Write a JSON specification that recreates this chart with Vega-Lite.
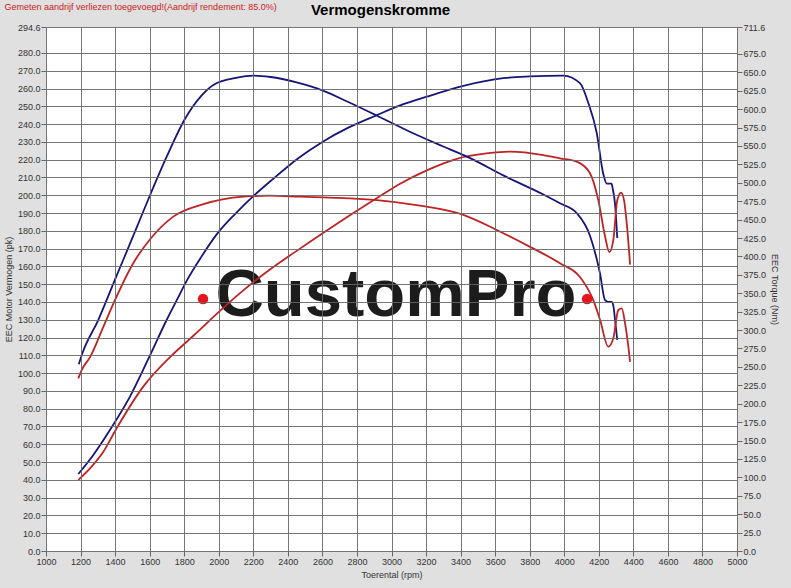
{
  "$schema": "https://vega.github.io/schema/vega-lite/v6.json",
  "autosize": {"type": "none"},
  "width": 691,
  "height": 524,
  "padding": {"left": 46, "top": 27, "right": 54, "bottom": 37},
  "background": "#e0e0e0",
  "config": {
    "view": {"fill": "#ffffff", "stroke": null},
    "font": "Liberation Sans",
    "axis": {
      "labelFont": "Liberation Sans",
      "labelFontSize": 9,
      "labelColor": "#333333",
      "labelOverlap": false,
      "labelFlush": false,
      "titleFont": "Liberation Sans",
      "titleFontSize": 9,
      "titleFontWeight": "normal",
      "titleColor": "#333333",
      "tickColor": "#666666",
      "tickSize": 5,
      "gridColor": "#666666",
      "gridWidth": 0.9,
      "gridOpacity": 1,
      "domain": false
    }
  },
  "datasets": {
    "power": [
      {"rpm": 1187, "pk": 43.3, "run": "blauw"},
      {"rpm": 1274, "pk": 54, "run": "blauw"},
      {"rpm": 1370, "pk": 68, "run": "blauw"},
      {"rpm": 1486, "pk": 86.8, "run": "blauw"},
      {"rpm": 1602, "pk": 110, "run": "blauw"},
      {"rpm": 1699, "pk": 130, "run": "blauw"},
      {"rpm": 1757, "pk": 141, "run": "blauw"},
      {"rpm": 1815, "pk": 152, "run": "blauw"},
      {"rpm": 1900, "pk": 165.5, "run": "blauw"},
      {"rpm": 1988, "pk": 178, "run": "blauw"},
      {"rpm": 2100, "pk": 190, "run": "blauw"},
      {"rpm": 2200, "pk": 199.5, "run": "blauw"},
      {"rpm": 2300, "pk": 208, "run": "blauw"},
      {"rpm": 2470, "pk": 221.5, "run": "blauw"},
      {"rpm": 2600, "pk": 230, "run": "blauw"},
      {"rpm": 2750, "pk": 238, "run": "blauw"},
      {"rpm": 2914, "pk": 245, "run": "blauw"},
      {"rpm": 3050, "pk": 250.5, "run": "blauw"},
      {"rpm": 3204, "pk": 255.4, "run": "blauw"},
      {"rpm": 3416, "pk": 261.5, "run": "blauw"},
      {"rpm": 3647, "pk": 265.8, "run": "blauw"},
      {"rpm": 3800, "pk": 266.8, "run": "blauw"},
      {"rpm": 3995, "pk": 267.3, "run": "blauw"},
      {"rpm": 4091, "pk": 263, "run": "blauw"},
      {"rpm": 4139, "pk": 252, "run": "blauw"},
      {"rpm": 4188, "pk": 235, "run": "blauw"},
      {"rpm": 4226, "pk": 212, "run": "blauw"},
      {"rpm": 4246, "pk": 206.5, "run": "blauw"},
      {"rpm": 4274, "pk": 206.5, "run": "blauw"},
      {"rpm": 4280, "pk": 204, "run": "blauw"},
      {"rpm": 4294, "pk": 195, "run": "blauw"},
      {"rpm": 4307, "pk": 176, "run": "blauw"},
      {"rpm": 1187, "pk": 40, "run": "rood"},
      {"rpm": 1255, "pk": 46.5, "run": "rood"},
      {"rpm": 1332, "pk": 55.8, "run": "rood"},
      {"rpm": 1409, "pk": 69, "run": "rood"},
      {"rpm": 1563, "pk": 92.4, "run": "rood"},
      {"rpm": 1718, "pk": 109, "run": "rood"},
      {"rpm": 1853, "pk": 121, "run": "rood"},
      {"rpm": 2007, "pk": 135, "run": "rood"},
      {"rpm": 2123, "pk": 145, "run": "rood"},
      {"rpm": 2300, "pk": 158.5, "run": "rood"},
      {"rpm": 2470, "pk": 170, "run": "rood"},
      {"rpm": 2700, "pk": 185, "run": "rood"},
      {"rpm": 2914, "pk": 198.3, "run": "rood"},
      {"rpm": 3050, "pk": 206.5, "run": "rood"},
      {"rpm": 3204, "pk": 214, "run": "rood"},
      {"rpm": 3378, "pk": 220.5, "run": "rood"},
      {"rpm": 3550, "pk": 223.5, "run": "rood"},
      {"rpm": 3686, "pk": 224.5, "run": "rood"},
      {"rpm": 3879, "pk": 222.6, "run": "rood"},
      {"rpm": 3975, "pk": 220.8, "run": "rood"},
      {"rpm": 4072, "pk": 218.9, "run": "rood"},
      {"rpm": 4149, "pk": 212.4, "run": "rood"},
      {"rpm": 4197, "pk": 197.3, "run": "rood"},
      {"rpm": 4236, "pk": 177, "run": "rood"},
      {"rpm": 4261, "pk": 168, "run": "rood"},
      {"rpm": 4284, "pk": 174.8, "run": "rood"},
      {"rpm": 4307, "pk": 197.3, "run": "rood"},
      {"rpm": 4329, "pk": 201.5, "run": "rood"},
      {"rpm": 4346, "pk": 197.3, "run": "rood"},
      {"rpm": 4362, "pk": 184, "run": "rood"},
      {"rpm": 4381, "pk": 161, "run": "rood"}
    ],
    "torque": [
      {"rpm": 1190, "nm": 253.6, "run": "blauw"},
      {"rpm": 1210, "nm": 268.1, "run": "blauw"},
      {"rpm": 1303, "nm": 314.0, "run": "blauw"},
      {"rpm": 1400, "nm": 368.8, "run": "blauw"},
      {"rpm": 1500, "nm": 425.1, "run": "blauw"},
      {"rpm": 1602, "nm": 483.1, "run": "blauw"},
      {"rpm": 1700, "nm": 536.2, "run": "blauw"},
      {"rpm": 1805, "nm": 587.0, "run": "blauw"},
      {"rpm": 1900, "nm": 618.4, "run": "blauw"},
      {"rpm": 1969, "nm": 632.9, "run": "blauw"},
      {"rpm": 2100, "nm": 642.5, "run": "blauw"},
      {"rpm": 2200, "nm": 645.7, "run": "blauw"},
      {"rpm": 2300, "nm": 643.7, "run": "blauw"},
      {"rpm": 2451, "nm": 636.3, "run": "blauw"},
      {"rpm": 2600, "nm": 625.6, "run": "blauw"},
      {"rpm": 2750, "nm": 609.7, "run": "blauw"},
      {"rpm": 2914, "nm": 591.4, "run": "blauw"},
      {"rpm": 3100, "nm": 570.1, "run": "blauw"},
      {"rpm": 3300, "nm": 549.3, "run": "blauw"},
      {"rpm": 3455, "nm": 533.5, "run": "blauw"},
      {"rpm": 3650, "nm": 509.7, "run": "blauw"},
      {"rpm": 3879, "nm": 484.1, "run": "blauw"},
      {"rpm": 3975, "nm": 472.2, "run": "blauw"},
      {"rpm": 4072, "nm": 458.9, "run": "blauw"},
      {"rpm": 4150, "nm": 427.5, "run": "blauw"},
      {"rpm": 4207, "nm": 376.8, "run": "blauw"},
      {"rpm": 4236, "nm": 340.6, "run": "blauw"},
      {"rpm": 4255, "nm": 338.2, "run": "blauw"},
      {"rpm": 4274, "nm": 338.2, "run": "blauw"},
      {"rpm": 4284, "nm": 333.3, "run": "blauw"},
      {"rpm": 4294, "nm": 314.0, "run": "blauw"},
      {"rpm": 4307, "nm": 286.5, "run": "blauw"},
      {"rpm": 1187, "nm": 234.3, "run": "rood"},
      {"rpm": 1207, "nm": 245.9, "run": "rood"},
      {"rpm": 1255, "nm": 263.3, "run": "rood"},
      {"rpm": 1332, "nm": 304.4, "run": "rood"},
      {"rpm": 1399, "nm": 340.6, "run": "rood"},
      {"rpm": 1505, "nm": 390.8, "run": "rood"},
      {"rpm": 1600, "nm": 422.7, "run": "rood"},
      {"rpm": 1737, "nm": 454.1, "run": "rood"},
      {"rpm": 1911, "nm": 471.0, "run": "rood"},
      {"rpm": 2142, "nm": 481.2, "run": "rood"},
      {"rpm": 2297, "nm": 482.6, "run": "rood"},
      {"rpm": 2470, "nm": 481.2, "run": "rood"},
      {"rpm": 2700, "nm": 479.5, "run": "rood"},
      {"rpm": 2914, "nm": 476.6, "run": "rood"},
      {"rpm": 3146, "nm": 469.8, "run": "rood"},
      {"rpm": 3416, "nm": 456.5, "run": "rood"},
      {"rpm": 3609, "nm": 436.0, "run": "rood"},
      {"rpm": 3802, "nm": 413.0, "run": "rood"},
      {"rpm": 3975, "nm": 390.8, "run": "rood"},
      {"rpm": 4091, "nm": 372.0, "run": "rood"},
      {"rpm": 4168, "nm": 340.6, "run": "rood"},
      {"rpm": 4207, "nm": 314.0, "run": "rood"},
      {"rpm": 4255, "nm": 277.5, "run": "rood"},
      {"rpm": 4284, "nm": 288.9, "run": "rood"},
      {"rpm": 4313, "nm": 327.3, "run": "rood"},
      {"rpm": 4333, "nm": 329.5, "run": "rood"},
      {"rpm": 4352, "nm": 309.2, "run": "rood"},
      {"rpm": 4371, "nm": 277.8, "run": "rood"},
      {"rpm": 4381, "nm": 257.0, "run": "rood"}
    ],
    "brand": [{"rpm": 3026, "pk": 143.5, "label": "CustomPro"}],
    "dots": [{"rpm": 1909, "pk": 141.7}, {"rpm": 4132, "pk": 141.7}]
  },
  "resolve": {"scale": {"y": "independent"}, "axis": {"x": "independent", "y": "independent"}},
  "layer": [
    {
      "data": {"name": "brand"},
      "mark": {"type": "text", "font": "Liberation Sans", "fontWeight": "bold", "fontSize": 67, "color": "#1c1c1c", "align": "center", "baseline": "middle"},
      "encoding": {
        "x": {
          "field": "rpm", "type": "quantitative",
          "scale": {"domain": [1000, 5000], "nice": false},
          "axis": {
            "orient": "top",
            "title": "Gemeten aandrijf verliezen toegevoegd!(Aandrijf rendement: 85.0%)",
            "titleColor": "#cc2020",
            "titleFontSize": 9,
            "titleX": -42,
            "titleY": -21,
            "titleAlign": "left",
            "titleBaseline": "middle",
            "labels": false,
            "ticks": false,
            "grid": false
          }
        },
        "y": {"field": "pk", "type": "quantitative", "scale": {"domain": [0, 294.6], "nice": false}, "axis": null},
        "text": {"field": "label"}
      }
    },
    {
      "data": {"name": "power"},
      "mark": {"type": "line", "strokeWidth": 1.8, "interpolate": "monotone"},
      "encoding": {
        "x": {
          "field": "rpm", "type": "quantitative",
          "scale": {"domain": [1000, 5000], "nice": false},
          "axis": {
            "title": "Toerental (rpm)",
            "values": [1000, 1200, 1400, 1600, 1800, 2000, 2200, 2400, 2600, 2800, 3000, 3200, 3400, 3600, 3800, 4000, 4200, 4400, 4600, 4800, 5000],
            "format": "d",
            "grid": true,
            "zindex": 1,
            "labelPadding": 1,
            "titlePadding": 4
          }
        },
        "y": {
          "field": "pk", "type": "quantitative",
          "scale": {"domain": [0, 294.6], "nice": false},
          "axis": {
            "orient": "left",
            "title": "EEC Motor Vermogen (pk)",
            "values": [0, 10, 20, 30, 40, 50, 60, 70, 80, 90, 100, 110, 120, 130, 140, 150, 160, 170, 180, 190, 200, 210, 220, 230, 240, 250, 260, 270, 280, 294.6],
            "format": ".1f",
            "grid": true,
            "zindex": 1,
            "labelPadding": 1,
            "titlePadding": 4
          }
        },
        "color": {
          "field": "run", "type": "nominal",
          "scale": {"domain": ["blauw", "rood"], "range": ["#15157a", "#c02222"]},
          "legend": null
        }
      }
    },
    {
      "data": {"name": "torque"},
      "mark": {"type": "line", "strokeWidth": 1.8, "interpolate": "monotone"},
      "encoding": {
        "x": {"field": "rpm", "type": "quantitative", "axis": null},
        "y": {
          "field": "nm", "type": "quantitative",
          "scale": {"domain": [0, 711.6], "nice": false},
          "axis": {
            "orient": "right",
            "title": "EEC Torque (Nm)",
            "values": [0, 25, 50, 75, 100, 125, 150, 175, 200, 225, 250, 275, 300, 325, 350, 375, 400, 425, 450, 475, 500, 525, 550, 575, 600, 625, 650, 675, 711.6],
            "format": ".1f",
            "grid": false,
            "labelPadding": 1,
            "titlePadding": 4
          }
        },
        "color": {
          "field": "run", "type": "nominal",
          "scale": {"domain": ["blauw", "rood"], "range": ["#15157a", "#c02222"]},
          "legend": null
        }
      }
    },
    {
      "data": {"name": "dots"},
      "mark": {"type": "point", "filled": true, "size": 110, "color": "#e8141c", "opacity": 1},
      "encoding": {
        "x": {"field": "rpm", "type": "quantitative", "axis": null},
        "y": {
          "field": "pk", "type": "quantitative",
          "scale": {"domain": [0, 294.6], "nice": false},
          "axis": {
            "orient": "left",
            "title": "Vermogenskromme",
            "titleColor": "#000000",
            "titleFontSize": 15,
            "titleFontWeight": "bold",
            "titleAngle": 0,
            "titleX": 334,
            "titleY": -18,
            "titleAlign": "center",
            "titleBaseline": "middle",
            "labels": false,
            "ticks": false,
            "grid": false
          }
        }
      }
    }
  ]
}
